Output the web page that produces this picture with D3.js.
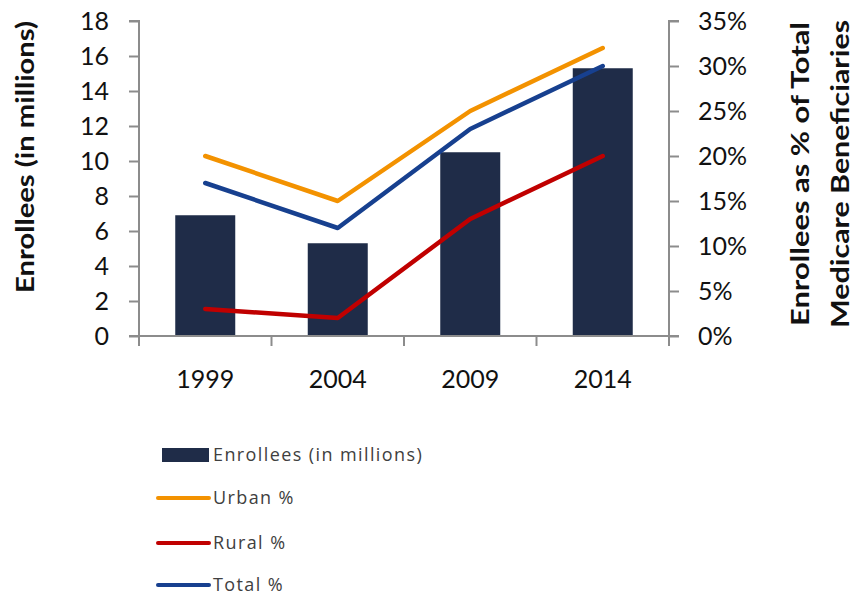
<!DOCTYPE html>
<html>
<head>
<meta charset="utf-8">
<script src="https://cdn.jsdelivr.net/npm/d3@7"></script>
<style>
  body { margin: 0; background: #fff; }
  svg { font-family: Lato, "Open Sans", sans-serif; }
</style>
</head>
<body>
<svg id="chart" width="854" height="596"></svg>
<script>
const years = ["1999", "2004", "2009", "2014"];
const enrollees = [6.9, 5.3, 10.5, 15.3];
const urbanPct = [20, 15, 25, 32];
const ruralPct = [3, 2, 13, 20];
const totalPct = [17, 12, 23, 30];
const leftTicks = [0, 2, 4, 6, 8, 10, 12, 14, 16, 18];
const rightTicks = [0, 5, 10, 15, 20, 25, 30, 35];

const lineSeries = [
  { name: "Urban %", values: urbanPct, color: "#f39200" },
  { name: "Rural %", values: ruralPct, color: "#c00000" },
  { name: "Total %", values: totalPct, color: "#17408f" }
];

const svg = d3.select("#chart");
const margin = { top: 21, left: 139 };
const rightX = 669;
const bottomY = 336;

const x = d3.scaleBand()
  .domain(years)
  .range([margin.left, rightX]);

const yLeft = d3.scaleLinear()
  .domain([0, 18])
  .range([bottomY, margin.top]);

const yRight = d3.scaleLinear()
  .domain([0, 35])
  .range([bottomY, margin.top]);

// bars
svg.append("g")
  .selectAll("rect")
  .data(enrollees)
  .enter().append("rect")
  .attr("x", (d, i) => x(years[i]) + x.bandwidth() / 2 - 30)
  .attr("y", d => yLeft(d))
  .attr("width", 60)
  .attr("height", d => bottomY - yLeft(d))
  .attr("fill", "#1f2c48");

// lines
const line = d3.line()
  .x((d, i) => x(years[i]) + x.bandwidth() / 2)
  .y(d => yRight(d));

svg.append("g")
  .selectAll("path")
  .data(lineSeries)
  .enter().append("path")
  .attr("d", d => line(d.values))
  .attr("fill", "none")
  .attr("stroke", d => d.color)
  .attr("stroke-width", 4.5)
  .attr("stroke-linecap", "round")
  .attr("stroke-linejoin", "round");

// axes
const axisColor = "#8c8c8c";

const gLeft = svg.append("g")
  .attr("transform", `translate(${margin.left},0)`)
  .call(d3.axisLeft(yLeft).tickValues(leftTicks).tickSize(10).tickPadding(20));

const gRight = svg.append("g")
  .attr("transform", `translate(${rightX},0)`)
  .call(d3.axisRight(yRight).tickValues(rightTicks).tickSize(10).tickPadding(19)
    .tickFormat(d => d + "%"));

const gBottom = svg.append("g")
  .attr("transform", `translate(0,${bottomY})`)
  .call(d3.axisBottom(x).tickSize(0).tickPadding(34));

// x-axis tick marks at band edges
gBottom.selectAll(".edge")
  .data(years.map(y => x(y)).concat([rightX]))
  .enter().append("line")
  .attr("x1", d => d).attr("x2", d => d)
  .attr("y1", 0).attr("y2", 10)
  .attr("stroke", axisColor)
  .attr("stroke-width", 2);

[gLeft, gRight, gBottom].forEach(g => {
  g.selectAll(".domain").attr("stroke", axisColor).attr("stroke-width", 2);
  g.selectAll(".tick line").attr("stroke", axisColor).attr("stroke-width", 2);
  g.selectAll("text")
    .attr("fill", "#111")
    .style("font-size", "25px")
    .style("font-family", "Lato, 'Open Sans', sans-serif");
});
gLeft.selectAll(".domain").attr("d", `M-10,${margin.top}H0V${bottomY}H-10`);
gRight.selectAll(".domain").attr("d", `M10,${margin.top}H0V${bottomY}H10`);
gBottom.selectAll(".domain").attr("d", `M${margin.left - 10},0H${rightX + 10}`);

// axis titles
svg.append("text")
  .attr("transform", "translate(34,157) rotate(-90)")
  .attr("text-anchor", "middle")
  .attr("fill", "#111")
  .attr("textLength", 272)
  .attr("lengthAdjust", "spacingAndGlyphs")
  .style("font-size", "25px")
  .style("font-weight", "bold")
  .text("Enrollees (in millions)");

const rightTitle = svg.append("text")
  .attr("transform", "translate(0,174) rotate(-90)")
  .attr("text-anchor", "middle")
  .attr("fill", "#111")
  .style("font-size", "25px")
  .style("font-weight", "bold");
rightTitle.append("tspan").attr("x", 0).attr("y", 809)
  .attr("textLength", 304).attr("lengthAdjust", "spacingAndGlyphs")
  .text("Enrollees as % of Total");
rightTitle.append("tspan").attr("x", 0).attr("y", 849)
  .attr("textLength", 308).attr("lengthAdjust", "spacingAndGlyphs")
  .text("Medicare Beneficiaries");

// legend
const legend = svg.append("g").attr("transform", "translate(160,0)");
const legendRows = [{ name: "Enrollees (in millions)", type: "bar", color: "#1f2c48" }]
  .concat(lineSeries.map(s => ({ name: s.name, type: "line", color: s.color })));
const legendY = [455, 498, 543, 585];

const items = legend.selectAll("g")
  .data(legendRows)
  .enter().append("g")
  .attr("transform", (d, i) => `translate(0,${legendY[i]})`);

items.filter(d => d.type === "bar").append("rect")
  .attr("x", 2).attr("y", -7).attr("width", 47).attr("height", 14)
  .attr("fill", d => d.color);

items.filter(d => d.type === "line").append("line")
  .attr("x1", -2).attr("x2", 49).attr("y1", 0).attr("y2", 0)
  .attr("stroke", d => d.color)
  .attr("stroke-width", 4)
  .attr("stroke-linecap", "round");

items.append("text")
  .attr("x", 53)
  .attr("dy", "0.36em")
  .attr("fill", "#404040")
  .style("font-size", "18px")
  .style("font-family", "'Open Sans', sans-serif")
  .style("letter-spacing", "1.4px")
  .text(d => d.name);
</script>
</body>
</html>
